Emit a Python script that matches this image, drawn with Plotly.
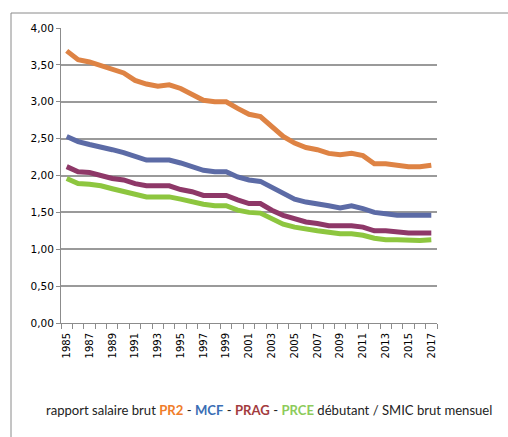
import plotly.graph_objects as go

years = list(range(1985, 2018))

pr2 = [3.69, 3.57, 3.54, 3.49, 3.44, 3.39, 3.29, 3.24, 3.21, 3.23, 3.18, 3.10, 3.02, 3.00, 3.00,
       2.91, 2.83, 2.80, 2.67, 2.53, 2.44, 2.38, 2.35, 2.30, 2.28, 2.30, 2.27, 2.16, 2.16, 2.14,
       2.12, 2.12, 2.14]
mcf = [2.53, 2.46, 2.42, 2.39, 2.35, 2.31, 2.26, 2.21, 2.21, 2.21, 2.17, 2.12, 2.07, 2.05, 2.05,
       1.98, 1.94, 1.92, 1.84, 1.75, 1.68, 1.64, 1.62, 1.59, 1.56, 1.59, 1.55, 1.50, 1.48, 1.46,
       1.46, 1.46, 1.46]
prag = [2.12, 2.05, 2.04, 2.00, 1.96, 1.94, 1.89, 1.86, 1.86, 1.86, 1.81, 1.78, 1.73, 1.73, 1.73,
        1.67, 1.62, 1.62, 1.53, 1.46, 1.41, 1.37, 1.35, 1.32, 1.32, 1.32, 1.30, 1.25, 1.25, 1.23,
        1.22, 1.22, 1.22]
prce = [1.96, 1.89, 1.88, 1.86, 1.82, 1.78, 1.75, 1.71, 1.71, 1.71, 1.68, 1.64, 1.61, 1.59, 1.59,
        1.53, 1.50, 1.49, 1.41, 1.34, 1.30, 1.27, 1.25, 1.23, 1.21, 1.21, 1.19, 1.15, 1.13, 1.13,
        1.12, 1.12, 1.13]

series_names = ["PR2", "MCF", "PRAG", "PRCE"]
line_colors = ["#DE8344", "#5C6BA6", "#8E3868", "#8DC63F"]
title_colors = ["#F07D2A", "#3A6EB5", "#A33B3E", "#8DCB5B"]

fig = go.Figure()
for name, vals, col in zip(series_names, [pr2, mcf, prag, prce], line_colors):
    fig.add_trace(go.Scatter(x=years, y=vals, mode="lines", name=name,
                             line=dict(color=col, width=5)))

label_years = years[::2]
fig.update_xaxes(
    range=[1984.5, 2017.5], tickmode="array", tickvals=label_years,
    ticktext=[str(y) for y in label_years], tickangle=-90, ticks="",
    ticklabelstandoff=5,
    showgrid=False, showline=True, linecolor="#8c8c8c", linewidth=1,
    tickfont=dict(family="DejaVu Sans", size=10, color="#000"),
    minor=dict(tickvals=[y - 0.5 for y in years] + [2017.5], ticks="outside",
               ticklen=5, tickcolor="#8c8c8c", tickwidth=1, showgrid=False),
    zeroline=False,
)
fig.update_yaxes(
    range=[0, 4], tickmode="array", tickvals=[0, 0.5, 1, 1.5, 2, 2.5, 3, 3.5, 4],
    tickformat=".2f", showgrid=True, gridcolor="#9a9a9a", gridwidth=1.5,
    showline=True, linecolor="#8c8c8c", linewidth=1, ticks="outside", ticklen=4,
    tickcolor="#8c8c8c", zeroline=False,
    tickfont=dict(family="DejaVu Sans", size=10.5, color="#000"),
)

title_text = ("rapport salaire brut "
              f"<b><span style='color:{title_colors[0]}'>PR2</span></b> - "
              f"<b><span style='color:{title_colors[1]}'>MCF</span></b> - "
              f"<b><span style='color:{title_colors[2]}'>PRAG</span></b> - "
              f"<b><span style='color:{title_colors[3]}'>PRCE</span></b> "
              "débutant / SMIC brut mensuel")

fig.add_annotation(text=title_text, xref="paper", yref="paper",
                   x=(269 - 61) / 376, y=(323 - 410) / 295,
                   xanchor="center", yanchor="middle", showarrow=False,
                   font=dict(family="Lato", size=13.1, color="#222"))

# outer chart frame (cropped on right and bottom)
fig.add_shape(type="rect", xref="paper", yref="paper",
              x0=(11 - 61) / 376, x1=(520 - 61) / 376,
              y0=(323 - 450) / 295, y1=(323 - 13) / 295,
              line=dict(color="#8a8a8a", width=1), fillcolor="rgba(0,0,0,0)", layer="below")

fig.update_layout(
    width=508, height=437, showlegend=False,
    margin=dict(l=61, r=71, t=28, b=114),
    plot_bgcolor="white", paper_bgcolor="white",
    separators=", ",
)

fig.write_html("out.html", config={"displayModeBar": False},
               post_script="document.body.style.margin='0';document.body.style.overflow='hidden';")
